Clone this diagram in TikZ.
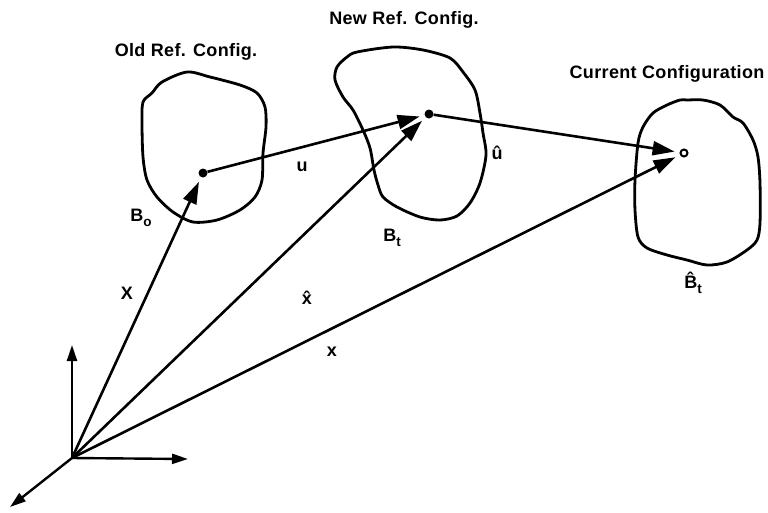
\documentclass[tikz,border=0pt]{standalone}
\usepackage{fontspec}
\setmainfont{Liberation Sans}
\newfontfamily\labfont[LetterSpace=2]{Liberation Sans}
\usetikzlibrary{arrows.meta}
\newcommand\subsc[1]{\raisebox{-5pt}{\fontsize{13.5}{14}\selectfont #1}}
\begin{document}
\begin{tikzpicture}[x=1pt,y=-1pt,
  lab/.style={inner sep=0pt,font=\labfont\bfseries\fontsize{18}{20}\selectfont},
  blob/.style={line width=2.8pt,line join=round},
  vec/.style={line width=2.6pt,-{Triangle[length=22pt,width=14pt]},shorten >=5pt},
  axis/.style={line width=2.4pt,-{Triangle[length=16pt,width=10pt]}},
  dot/.style={circle,fill,inner sep=0pt,minimum size=9pt},
  odot/.style={circle,draw,line width=2pt,inner sep=0pt,minimum size=7pt}]
\useasboundingbox (0,0) rectangle (768,512);
% blobs
\draw[blob] plot[smooth cycle,tension=0.5] coordinates {
 (162,82) (187,72) (210,77) (240,85) (257,93) (265,107) (266,127) (263,153)
 (262,180) (255,197) (240,210) (217,220) (193,222) (173,212) (157,197)
 (147,180) (143,157) (142,123) (143,102) (152,93)};
\draw[blob] plot[smooth cycle,tension=0.5] coordinates {
 (357,52) (393,47) (423,50) (450,58) (463,72) (475,90) (480,113) (483,133)
 (486,155) (480,183) (470,203) (457,216) (440,220) (420,217) (397,207)
 (383,197) (378,185) (374,170) (370,148) (363,130) (353,110) (343,97)
 (335,80) (337,67) (347,57)};
\draw[blob] plot[smooth cycle,tension=0.5] coordinates {
 (687,100) (703,100) (720,105) (733,117) (743,123) (753,140) (758,157)
 (760,183) (760,223) (757,240) (747,250) (727,262) (707,265) (687,260)
 (667,255) (647,248) (638,237) (635,210) (635,180) (638,143) (643,127)
 (653,113) (667,105) (680,100)};
% points
\coordinate (O) at (72,458);
\node[dot] (P0) at (203,173) {};
\node[dot] (P1) at (429,114) {};
\node[odot] (P2) at (684,153) {};
% axes
\coordinate (ez) at (72,345);
\coordinate (ex) at (188,459);
\coordinate (ey) at (10,507);
\draw[axis] (O) -- (ez);
\draw[axis] (O) -- (ex);
\draw[axis] (O) -- (ey);
% vectors
\draw[vec] (O) -- (P0);
\draw[vec] (O) -- (P1);
\draw[vec] (O) -- (P2);
\draw[vec] (P0) -- (P1);
\draw[vec] (P1) -- (P2);
% titles
\node[lab] (t0) at (186,52) {Old Ref. Config.};
\node[lab] (t1) at (404,20) {New Ref. Config.};
\node[lab] (t2) at (667,74) {Current Configuration};
% labels
\node[lab] (lB0) at (141,218) {B\subsc{o}};
\node[lab] (lu) at (302,167) {u};
\node[lab] (luh) at (497,153) {û};
\node[lab] (lBt) at (392,238) {B\subsc{t}};
\node[lab] (lX) at (127,293) {X};
\node[lab] (lxh) at (307,298) {x̂};
\node[lab] (lx) at (332,352) {x};
\node[lab] (lBh) at (693,283) {B̂\subsc{t}};
\end{tikzpicture}
\end{document}
